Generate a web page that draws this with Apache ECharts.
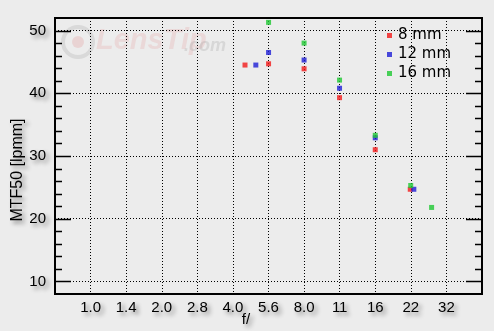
<!DOCTYPE html>
<html>
<head>
<meta charset="utf-8">
<script src="https://cdn.jsdelivr.net/npm/echarts@6/dist/echarts.min.js"></script>
<style>
html,body{margin:0;padding:0;background:#ececec;}
#chart{width:494px;height:331px;}
</style>
</head>
<body>
<div id="chart"></div>
<script>
// f-number tick labels (one per 1/2-stop step, starting at f/1.0)
var tickLabels = ['1.0','1.4','2.0','2.8','4.0','5.6','8.0','11','16','22','32'];
var yMajor = [10, 20, 30, 40, 50];
var yTicks = [10,12,14,16,18,20,22,24,26,28,30,32,34,36,38,40,42,44,46,48,50];
var seriesNames = ['8 mm', '12 mm', '16 mm'];
// [f-number, MTF50 lpmm]
var mtf8  = [[4.5,44.5],[5.66,44.7],[8,43.9],[11.3,39.3],[16,31.0],[22.5,24.7]];
var mtf12 = [[5.0,44.5],[5.66,46.5],[8,45.3],[11.3,40.8],[16,32.9],[23.3,24.7]];
var mtf16 = [[5.66,51.3],[8,48.0],[11.3,42.1],[16,33.3],[22.6,25.3],[27.7,21.8]];
var colors = ['#f21a1a', '#1e1ed6', '#1ec832'];

function toStop(f) { return 2 * Math.log2(f); }
function mapData(arr) { return arr.map(function (p) { return [toStop(p[0]), p[1]]; }); }

var shadow = { textShadowColor: 'rgba(0,0,0,0.45)', textShadowBlur: 4, textShadowOffsetX: 3, textShadowOffsetY: 3 };
var labelFont = "'Liberation Sans',Arial,sans-serif";

var chart = echarts.init(document.getElementById('chart'), null, { renderer: 'canvas' });

var baseGraphic = [
  { type: 'circle', shape: { cx: 78, cy: 42, r: 15 }, style: { fill: 'none', stroke: 'rgba(150,150,150,0.22)', lineWidth: 4 }, silent: true, z: -1 },
  { type: 'circle', shape: { cx: 78, cy: 42, r: 6 }, style: { fill: 'rgba(220,100,100,0.18)' }, silent: true, z: -1 },
  { type: 'text', left: 96, top: 26, silent: true, z: -1, style: { text: 'LensTip', font: "italic bold 29px 'Liberation Sans',Arial,sans-serif", fill: 'rgba(225,120,120,0.17)' } },
  { type: 'text', left: 184, top: 37, silent: true, z: -1, style: { text: '.com', font: "italic bold 18px 'Liberation Sans',Arial,sans-serif", fill: 'rgba(150,150,150,0.25)' } },
  { type: 'text', x: 18, y: 170, rotation: Math.PI / 2, silent: true,
    style: Object.assign({ text: 'MTF50 [lpmm]', font: "16px " + labelFont, fill: '#000', align: 'center', verticalAlign: 'middle' }, shadow) },
  { type: 'text', x: 246, y: 320, silent: true,
    style: Object.assign({ text: 'f/', font: "15px " + labelFont, fill: '#000', align: 'center', verticalAlign: 'middle' }, shadow) }
];

var option = {
  backgroundColor: '#ececec',
  animation: false,
  grid: { left: 55, top: 18, right: 12, bottom: 37, show: true, borderColor: '#000', borderWidth: 2, backgroundColor: 'transparent' },
  legend: {
    orient: 'vertical', left: 387, top: 28, itemWidth: 5, itemHeight: 5, itemGap: 4, padding: 0,
    icon: 'rect', selectedMode: false,
    textStyle: { fontFamily: "'DejaVu Sans',sans-serif", fontSize: 15, color: '#000', lineHeight: 15, padding: [0, 0, 0, 1] },
    data: seriesNames
  },
  xAxis: {
    type: 'value', min: -1, max: 11, interval: 1,
    axisLine: { show: false, onZero: false },
    axisTick: { show: false },
    axisLabel: Object.assign({
      color: '#000', fontSize: 15, fontFamily: labelFont, margin: 6,
      formatter: function (v) { var i = Math.round(v); return (i >= 0 && i < tickLabels.length) ? tickLabels[i] : ''; }
    }, shadow),
    splitLine: { show: true, lineStyle: { color: '#000', width: 1, type: [1, 2] } }
  },
  yAxis: {
    type: 'value', min: 8, max: 52, interval: 2,
    axisLine: { show: false, onZero: false },
    axisTick: { show: false },
    axisLabel: Object.assign({
      show: true, color: '#000', fontSize: 15, fontFamily: labelFont, margin: 9,
      formatter: function (v) { return yMajor.indexOf(v) >= 0 ? String(v) : ''; }
    }, shadow),
    splitLine: { show: false }
  },
  graphic: baseGraphic,
  series: [
    {
      type: 'line', data: [], z: 1, silent: true,
      markLine: {
        silent: true, symbol: 'none', label: { show: false },
        lineStyle: { color: '#000', width: 1, type: [1, 2] },
        data: yMajor.map(function (v) { return { yAxis: v }; })
      }
    },
    { name: seriesNames[0], type: 'scatter', symbol: 'rect', symbolSize: 5, itemStyle: { color: colors[0] }, data: mapData(mtf8), z: 3 },
    { name: seriesNames[1], type: 'scatter', symbol: 'rect', symbolSize: 5, itemStyle: { color: colors[1] }, data: mapData(mtf12), z: 4 },
    { name: seriesNames[2], type: 'scatter', symbol: 'rect', symbolSize: 5, itemStyle: { color: colors[2] }, data: mapData(mtf16), z: 5 }
  ]
};
chart.setOption(option);

// inward tick marks on the left and right plot edges, placed through the chart's own scales
var xLeft = chart.convertToPixel({ xAxisIndex: 0 }, -1);
var xRight = chart.convertToPixel({ xAxisIndex: 0 }, 11);
var tickEls = [];
yTicks.forEach(function (v) {
  var y = Math.round(chart.convertToPixel({ yAxisIndex: 0 }, v)) + 0.5;
  var len = (yMajor.indexOf(v) >= 0) ? 16 : 7;
  tickEls.push({ type: 'line', silent: true, z: 10, shape: { x1: xLeft, y1: y, x2: xLeft + len, y2: y }, style: { stroke: '#000', lineWidth: 1.5 } });
  tickEls.push({ type: 'line', silent: true, z: 10, shape: { x1: xRight - len, y1: y, x2: xRight, y2: y }, style: { stroke: '#000', lineWidth: 1.5 } });
});
chart.setOption({ graphic: baseGraphic.concat(tickEls) });
</script>
</body>
</html>
